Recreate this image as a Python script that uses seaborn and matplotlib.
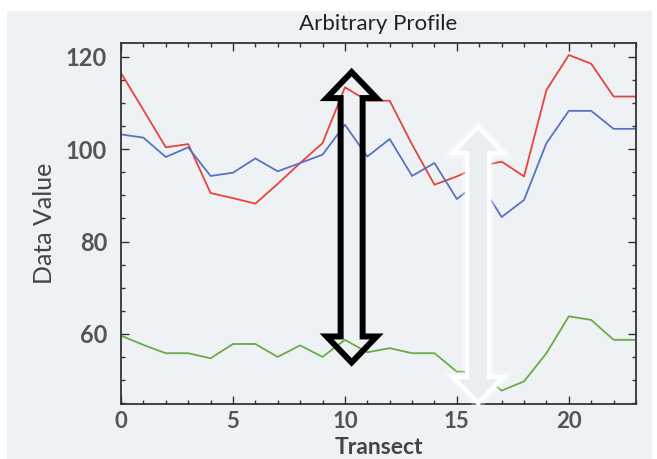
import numpy as np
import pandas as pd
import matplotlib
matplotlib.use("Agg")
import matplotlib.pyplot as plt
import seaborn as sns
from matplotlib.patches import Polygon, Rectangle
from matplotlib.ticker import MultipleLocator

# ---- data ----
transect = list(range(24))
red_vals = [116.5, 108.5, 100.4, 101.1, 90.5, 89.4, 88.2, 92.5, 97.0, 101.3, 113.4, 110.5,
            110.5, 101.0, 92.3, 94.1, 96.3, 97.3, 94.1, 112.8, 120.4, 118.5, 111.4, 111.4]
blue_vals = [103.2, 102.5, 98.3, 100.4, 94.2, 94.9, 98.0, 95.2, 97.0, 98.8, 105.3, 98.4,
             102.2, 94.2, 97.0, 89.2, 93.0, 85.3, 89.0, 101.3, 108.3, 108.3, 104.4, 104.4]
green_vals = [59.6, 57.6, 55.8, 55.8, 54.7, 57.8, 57.8, 55.0, 57.5, 55.0, 58.7, 56.0,
              56.9, 55.8, 55.8, 51.8, 51.8, 47.7, 49.7, 55.8, 63.8, 63.0, 58.7, 58.7]
series_names = ["red", "blue", "green"]
series_colors = ["#e8433d", "#5873c2", "#6aab47"]

title = "Arbitrary Profile"
xlabel = "Transect"
ylabel = "Data Value"
xticks = [0, 5, 10, 15, 20]
yticks = [60, 80, 100, 120]

# arrow annotations (x, y_low, y_high)
black_arrow = (10.3, 53.8, 116.7)
white_arrow = (15.95, 45.0, 104.8)

df = pd.DataFrame({
    "Transect": transect * 3,
    "Value": red_vals + blue_vals + green_vals,
    "Series": sum([[n] * len(transect) for n in series_names], []),
})

bg = "#eef2f5"
sns.set_theme(style="ticks")
plt.rcParams["font.family"] = ["Lato", "DejaVu Sans"]

fig = plt.figure(figsize=(6.57, 4.59), dpi=100, facecolor="white")
fig.patches.append(Rectangle((7 / 657, 0), 1 - 12 / 657, 1 - 11 / 459,
                             transform=fig.transFigure, facecolor=bg,
                             edgecolor="none", zorder=-10))
ax = fig.add_axes([121 / 657, 1 - 404 / 459, 515 / 657, 361 / 459])
ax.set_facecolor(bg)

sns.lineplot(data=df, x="Transect", y="Value", hue="Series",
             palette=dict(zip(series_names, series_colors)),
             linewidth=1.3, legend=False, ax=ax)

ax.set_xlim(0, 23)
ax.set_ylim(44.8, 123)
ax.set_xticks(xticks)
ax.set_yticks(yticks)
ax.xaxis.set_minor_locator(MultipleLocator(1))
ax.yaxis.set_minor_locator(MultipleLocator(5))
ax.tick_params(which="both", direction="in", top=True, right=True,
               color="#333333", width=1.0)
ax.tick_params(which="major", length=6)
ax.tick_params(which="minor", length=3)
ax.tick_params(axis="x", labelsize=16, labelcolor="#555555", pad=5)
ax.tick_params(axis="y", labelsize=17, labelcolor="#555555", pad=10)
for lbl in ax.get_xticklabels() + ax.get_yticklabels():
    lbl.set_fontweight("bold")
for s in ax.spines.values():
    s.set_color("#333333")
    s.set_linewidth(1.3)

ax.set_title(title, fontsize=16, color="#222222", pad=9)
ax.set_xlabel(xlabel, fontsize=16.5, color="#444444", labelpad=4, fontweight="bold")
ax.set_ylabel(ylabel, fontsize=18, color="#444444", labelpad=7)

fig.canvas.draw()


def arrow_polygon(x, y0, y1, shaft_hw=11, head_hw=25, head_len=26):
    """Double-headed arrow outline; widths in pixels, anchor in data coords."""
    (cx, py0) = ax.transData.transform((x, y0))
    (_, py1) = ax.transData.transform((x, y1))
    pts = [
        (cx, py1),
        (cx + head_hw, py1 - head_len),
        (cx + shaft_hw, py1 - head_len),
        (cx + shaft_hw, py0 + head_len),
        (cx + head_hw, py0 + head_len),
        (cx, py0),
        (cx - head_hw, py0 + head_len),
        (cx - shaft_hw, py0 + head_len),
        (cx - shaft_hw, py1 - head_len),
        (cx - head_hw, py1 - head_len),
    ]
    return ax.transData.inverted().transform(pts)


# white arrow (with soft glow)
wp = arrow_polygon(*white_arrow)
ax.add_patch(Polygon(wp, closed=True, facecolor="none", edgecolor="white",
                     linewidth=8, alpha=0.3, joinstyle="miter", zorder=4, clip_on=False))
ax.add_patch(Polygon(wp, closed=True, facecolor="#eaeef1", edgecolor="white",
                     linewidth=3.2, joinstyle="miter", zorder=5, clip_on=False))

# black arrow (hollow)
bp = arrow_polygon(*black_arrow)
ax.add_patch(Polygon(bp, closed=True, facecolor="none", edgecolor="black",
                     linewidth=4.3, joinstyle="miter", zorder=6, clip_on=False))

fig.savefig("out.png", dpi=100, facecolor="white")
